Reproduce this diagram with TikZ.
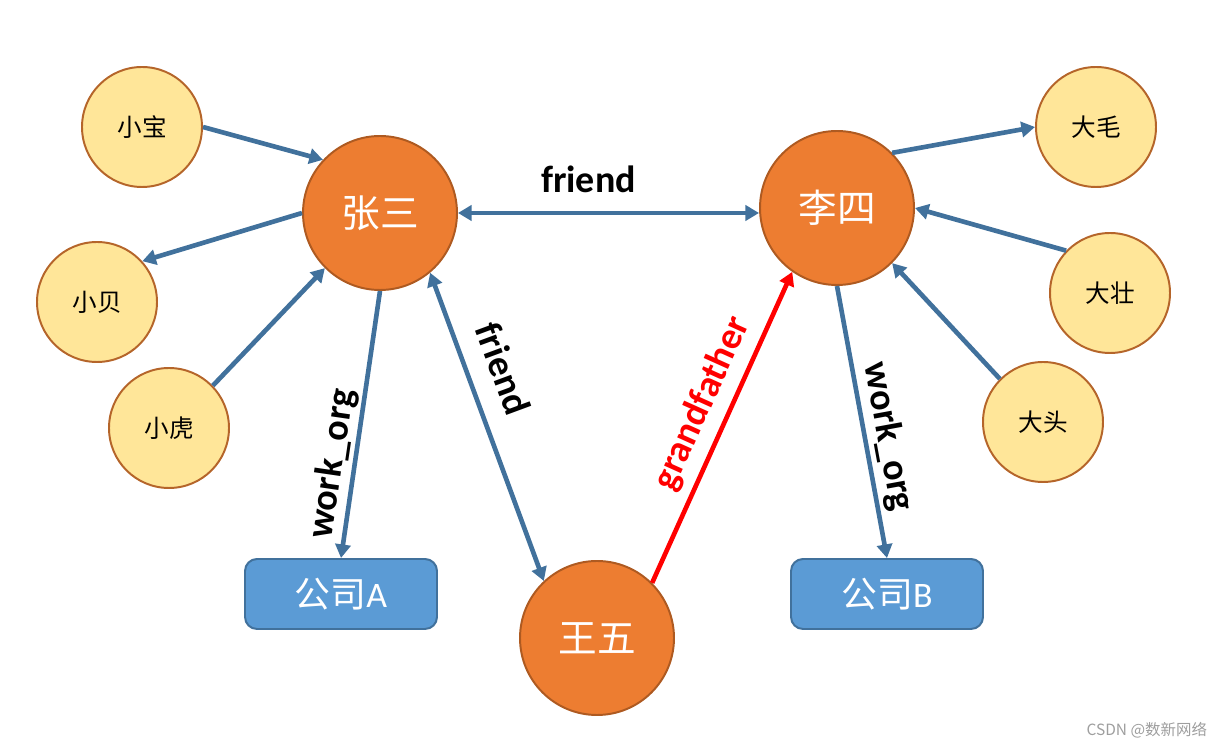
\documentclass[tikz,border=0pt]{standalone}
\usepackage{fontspec}
\setmainfont{Carlito}
\newfontfamily\cjk{Noto Sans CJK SC}
\usetikzlibrary{arrows.meta}
\definecolor{personfill}{HTML}{ED7D31}
\definecolor{personline}{HTML}{AE5A21}
\definecolor{minorfill}{HTML}{FFE699}
\definecolor{minorline}{HTML}{B5652A}
\definecolor{boxfill}{HTML}{5B9BD5}
\definecolor{boxline}{HTML}{41719C}
\definecolor{linkblue}{HTML}{41719C}
\tikzset{
  person/.style={circle, draw=personline, fill=personfill, line width=1.4pt,
    minimum size=3.85cm, inner sep=0pt, text=white, font=\cjk\fontsize{27.5}{30}\selectfont},
  minor/.style={circle, draw=minorline, fill=minorfill, line width=1.4pt,
    minimum size=3cm, inner sep=0pt, font=\cjk\fontsize{17.5}{20}\selectfont},
  company/.style={rectangle, rounded corners=0.3cm, draw=boxline, fill=boxfill, line width=1.4pt,
    minimum width=4.8cm, minimum height=1.75cm, text=white, font=\fontsize{25.5}{28}\selectfont},
  rel/.style={draw=linkblue, line width=3.3pt, >={Triangle[length=0.34cm,width=0.38cm]}, ->},
  lbl/.style={font=\bfseries\fontsize{27}{32}\selectfont, inner sep=2pt},
}
\begin{document}
\begin{tikzpicture}
  \useasboundingbox (0,0) rectangle (30.525,18.7);
  \node[person] (zhangsan) at (9.5,13.375) {张三};
  \node[person] (lisi) at (20.925,13.5) {李四};
  \node[person] (wangwu) at (14.925,2.75) {王五};
  \node[minor] (xiaobao) at (3.55,15.525) {小宝};
  \node[minor] (xiaobei) at (2.425,11.15) {小贝};
  \node[minor] (xiaohu) at (4.225,8.0) {小虎};
  \node[minor] (damao) at (27.4,15.525) {大毛};
  \node[minor] (dazhuang) at (27.75,11.375) {大壮};
  \node[minor] (datou) at (26.075,8.15) {大头};
  \node[company] (companya) at (8.525,3.85) {{\cjk 公司}A};
  \node[company] (companyb) at (22.175,3.85) {{\cjk 公司}B};
  \draw[rel] (xiaobao.0) -- (zhangsan.137);
  \draw[rel] (zhangsan.180) -- (xiaobei.42);
  \draw[rel] (xiaohu.44) -- (zhangsan.225);
  \draw[rel, <->] (zhangsan.east) -- node[lbl, above=11pt, xshift=-0.5cm] {friend} (zhangsan.east -| lisi.west);
  \draw[rel] (zhangsan.south) -- node[lbl, sloped, pos=0.66, above=0pt] {work\_org} (companya.north);
  \draw[rel, <->] (zhangsan.-50) -- node[lbl, sloped, pos=0.35, above=12pt] {friend} (wangwu.133);
  \draw[rel, draw=red] (wangwu.45) -- node[lbl, sloped, pos=0.54, above=4.5pt, text=red] {grandfather} (lisi.235);
  \draw[rel] (lisi.south) -- node[lbl, sloped, pos=0.57, above=1pt] {work\_org} (companyb.north);
  \draw[rel] (lisi.45) -- (damao.180);
  \draw[rel] (dazhuang.136) -- (lisi.0);
  \draw[rel] (datou.135) -- (lisi.-45);
  \node[anchor=east, text=black!38, font=\cjk\fontsize{11}{13}\selectfont] (mark) at (30.3,0.45) {CSDN @数新网络};
\end{tikzpicture}
\end{document}
